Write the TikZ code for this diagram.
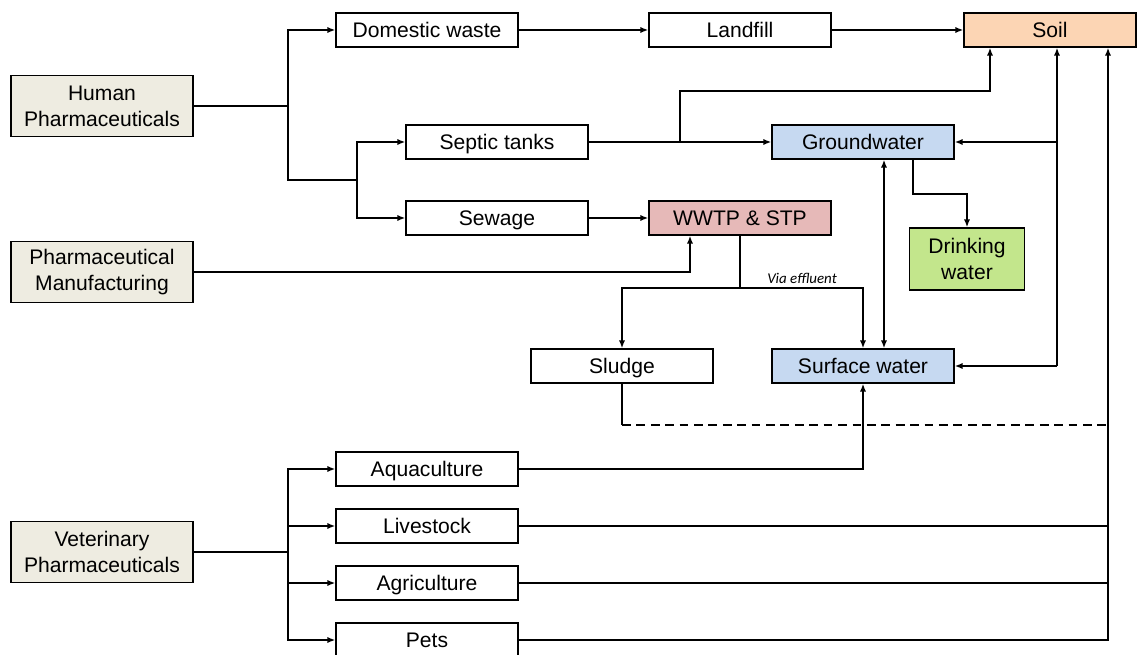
\documentclass[tikz,border=0pt]{standalone}
\usepackage{fontspec}
\setmainfont{Liberation Sans}
\newfontfamily\calfont{Carlito}
\usetikzlibrary{arrows.meta,calc}
\definecolor{beige}{HTML}{EEECE1}
\definecolor{soilc}{HTML}{FCD5B4}
\definecolor{waterc}{HTML}{C6D9F1}
\definecolor{plantc}{HTML}{E6B9B8}
\definecolor{drinkc}{HTML}{C3E68C}
\tikzset{
  basebox/.style={draw, line width=0.8pt, minimum width=3.64cm, minimum height=0.68cm, inner sep=0pt, font=\fontsize{12}{14.7}\selectfont},
  box/.style={basebox, text height=9pt, text depth=0pt},
  twobox/.style={basebox, align=center},
  src/.style={twobox, fill=beige, minimum height=1.22cm},
  arr/.style={-{Latex[length=4.5pt,width=3.5pt]}, line width=0.8pt},
  darr/.style={{Latex[length=4.5pt,width=3.5pt]}-{Latex[length=4.5pt,width=3.5pt]}, line width=0.8pt},
  ln/.style={line width=0.8pt}
}
\begin{document}
\begin{tikzpicture}[x=0.02cm,y=-0.02cm]
\useasboundingbox (0,0) rectangle (1137,655);
% nodes
\node[src] (hp) at (102,106) {Human\\Pharmaceuticals};
\node[src] (pm) at (102,272) {Pharmaceutical\\Manufacturing};
\node[src] (vp) at (102,552) {Veterinary\\Pharmaceuticals};
\node[box] (dw) at (427,30) {Domestic waste};
\node[box] (lf) at (740,30) {Landfill};
\node[box, fill=soilc, minimum width=3.44cm] (soil) at (1050,30) {Soil};
\node[box] (st) at (497,142) {Septic tanks};
\node[box, fill=waterc] (gw) at (863,142) {Groundwater};
\node[box] (sw) at (497,218) {Sewage};
\node[box, fill=plantc] (wwtp) at (740,218) {WWTP \& STP};
\node[twobox, fill=drinkc, minimum width=2.3cm, minimum height=1.24cm] (dwt) at (967,259) {Drinking\\water};
\node[box] (sl) at (622,366) {Sludge};
\node[box, fill=waterc] (sfw) at (863,366) {Surface water};
\node[box] (aq) at (427,469) {Aquaculture};
\node[box] (ls) at (427,526) {Livestock};
\node[box] (ag) at (427,583) {Agriculture};
\node[box] (pt) at (427,640) {Pets};
% coordinates
\coordinate (j1) at (288,106);
\coordinate (j2) at (357,180);
\coordinate (s1) at (990,91);
\coordinate (sb) at (680,142);
\coordinate (w1) at (690,272);
\coordinate (e1) at (740,288);
\coordinate (g1) at (884,250);
\coordinate (d1) at (913,194);
\coordinate (r1) at (1057,366);
\coordinate (r2) at (1108,640);
\coordinate (dsh) at (1108,425);
\coordinate (j3) at (288,552);
% human
\draw[ln] (hp.east) -- (j1);
\draw[arr] (j1) |- (dw.west);
\draw[arr] (j1) |- (j2) |- (st.west);
\draw[arr] (j2) |- (sw.west);
\draw[arr] (dw) -- (lf);
\draw[arr] (lf) -- (soil);
\draw[arr] (st) -- (gw);
\draw[arr] (sb) |- (s1) -- (s1 |- soil.south);
\draw[arr] (sw) -- (wwtp);
\draw[arr] (pm.east) -| (w1 |- wwtp.south);
% effluent
\draw[ln] (wwtp.south) -- (e1);
\draw[arr] (e1) -| (sl.north);
\draw[arr] (e1) -| (sfw.north);
\node[font=\calfont\itshape\fontsize{8.5}{10}\selectfont, anchor=base] (ve) at (802,284) {Via effluent};
% water
\draw[darr] (g1 |- gw.south) -- (g1 |- sfw.north);
\draw[arr] (d1 |- gw.south) |- (dwt.north |- d1) -- (dwt.north);
\draw[arr] (r1) -- (r1 |- soil.south);
\draw[arr] (r1 |- gw.east) -- (gw.east);
\draw[arr] (r1) -- (sfw.east);
% veterinary
\draw[ln] (vp.east) -- (j3);
\draw[arr] (j3) |- (aq.west);
\draw[arr] (j3) |- (ls.west);
\draw[arr] (j3) |- (ag.west);
\draw[arr] (j3) |- (pt.west);
\draw[arr] (aq.east) -| (sfw.south);
\draw[arr] (pt.east) -- (r2) -- (r2 |- soil.south);
\draw[ln] (ls.east) -- (ls.east -| r2);
\draw[ln] (ag.east) -- (ag.east -| r2);
\draw[ln] (sl.south) -- (sl.south |- dsh);
\draw[ln, dashed, dash pattern=on 5pt off 3.2pt] (sl.south |- dsh) -- (dsh);
\end{tikzpicture}
\end{document}
